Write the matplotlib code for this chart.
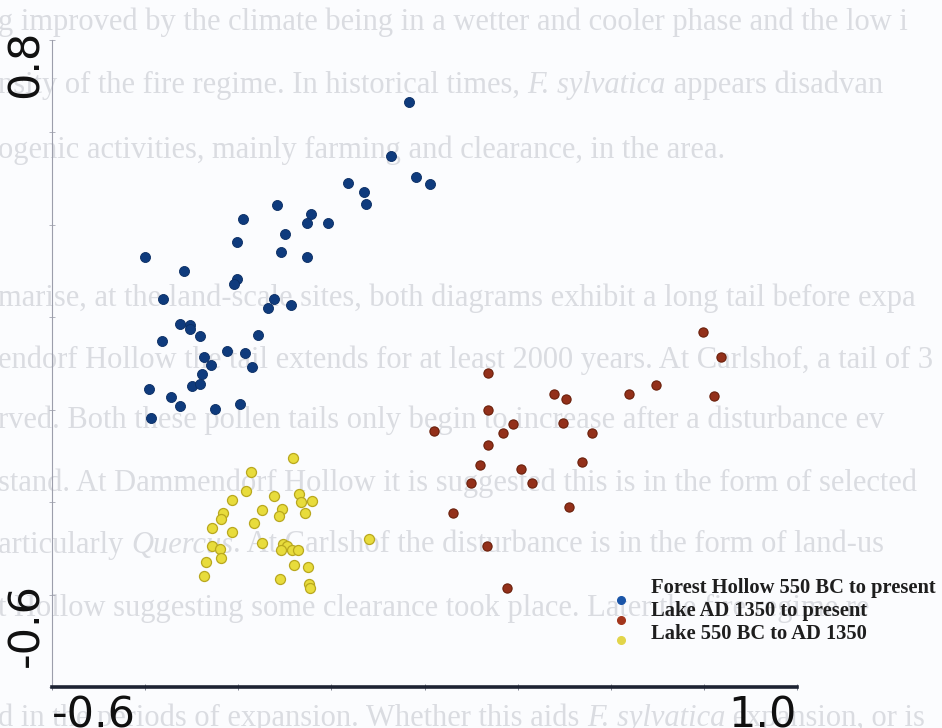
import matplotlib
matplotlib.use("Agg")
import matplotlib.pyplot as plt
import numpy as np

# ---- ordination scores (axis 1, axis 2) ----
forest_x = [0.167, 0.128, 0.182, 0.212, 0.036, 0.070, 0.074, -0.117, -0.044, -0.052,
            -0.007, -0.190, -0.100, -0.203, -0.108, -0.052, -0.400, -0.317, -0.203, -0.209,
            -0.362, -0.123, -0.136, -0.087, -0.325, -0.304, -0.304, -0.282, -0.364, -0.158,
            -0.224, -0.185, -0.274, -0.259, -0.170, -0.278, -0.299, -0.282, -0.392, -0.344,
            -0.325, -0.250, -0.196, -0.387]
forest_y = [0.666, 0.549, 0.503, 0.488, 0.490, 0.471, 0.445, 0.443, 0.423, 0.404,
            0.404, 0.413, 0.380, 0.363, 0.341, 0.330, 0.330, 0.300, 0.283, 0.272,
            0.239, 0.239, 0.220, 0.226, 0.185, 0.183, 0.174, 0.159, 0.149, 0.161,
            0.127, 0.122, 0.114, 0.097, 0.092, 0.077, 0.051, 0.055, 0.045, 0.027,
            0.008, 0.001, 0.012, -0.018]

lake_late_x = [0.798, 0.837, 0.336, 0.697, 0.639, 0.822, 0.478, 0.504, 0.336, 0.220,
               0.390, 0.369, 0.336, 0.498, 0.560, 0.319, 0.538, 0.407, 0.300, 0.431,
               0.261, 0.510, 0.334, 0.377]
lake_late_y = [0.168, 0.114, 0.079, 0.053, 0.034, 0.029, 0.034, 0.023, -0.001, -0.046,
               -0.031, -0.051, -0.077, -0.029, -0.051, -0.120, -0.113, -0.129, -0.159, -0.159,
               -0.224, -0.211, -0.295, -0.386]

lake_early_x = [-0.082, -0.173, -0.183, -0.123, -0.069, -0.065, -0.042, -0.213, -0.149, -0.106,
                -0.112, -0.057, -0.233, -0.237, -0.166, -0.256, -0.213, 0.081, -0.149, -0.256,
                -0.239, -0.104, -0.095, -0.108, -0.085, -0.072, -0.269, -0.237, -0.080, -0.050,
                -0.274, -0.110, -0.048, -0.046]
lake_early_y = [-0.105, -0.135, -0.176, -0.187, -0.183, -0.200, -0.198, -0.196, -0.217, -0.215,
                -0.230, -0.224, -0.224, -0.237, -0.245, -0.256, -0.265, -0.280, -0.289, -0.295,
                -0.302, -0.291, -0.295, -0.304, -0.304, -0.304, -0.330, -0.321, -0.336, -0.341,
                -0.360, -0.367, -0.377, -0.386]

series_names = ["Forest Hollow 550 BC to present",
                "Lake AD 1350 to present",
                "Lake 550 BC to AD 1350"]

x_limits = [-0.6, 1.0]
y_limits = [-0.6, 0.8]
tick_step = 0.2

# ---- figure ----
W, H = 942, 728
PAGE = "#fbfcfe"
fig = plt.figure(figsize=(W / 100, H / 100), dpi=100, facecolor=PAGE)
ax = fig.add_axes([52 / W, 41 / H, 745 / W, 647 / H])
ax.set_facecolor("none")
ax.set_xlim(*x_limits)
ax.set_ylim(*y_limits)

for side in ("top", "right"):
    ax.spines[side].set_visible(False)
ax.spines["left"].set_color("#9c9eab")
ax.spines["left"].set_linewidth(0.8)
ax.spines["bottom"].set_color("#1d2333")
ax.spines["bottom"].set_linewidth(2.6)

ax.set_xticks(np.arange(x_limits[0], x_limits[1] + 1e-9, tick_step))
ax.set_yticks(np.arange(y_limits[0], y_limits[1] + 1e-9, tick_step))
ax.tick_params(axis="y", direction="inout", length=4, width=0.6, color="#a4a6b2",
               labelleft=False)
ax.tick_params(axis="x", direction="inout", length=5, width=0.6, color="#6c7080",
               labelbottom=False)

# ---- background page text (show-through from the printed page) ----
serif = "Liberation Serif"
bg_col = "#dadce1"
bg_size = 22
page_lines = [
    (22, [("g improved by the climate being in a wetter and cooler phase and the low i", "normal")]),
    (85, [("nsity of the fire regime. In historical times, ", "normal"),
          ("F. sylvatica", "italic"), (" appears disadvan", "normal")]),
    (150, [("ogenic activities, mainly farming and clearance, in the area.", "normal")]),
    (298, [("marise, at the land-scale sites, both diagrams exhibit a long tail before expa", "normal")]),
    (360, [("endorf Hollow the tail extends for at least 2000 years. At Carlshof, a tail of 3", "normal")]),
    (420, [("rved. Both these pollen tails only begin to increase after a disturbance ev", "normal")]),
    (483, [("stand. At Dammendorf Hollow it is suggested this is in the form of selected", "normal")]),
    (545, [("articularly ", "normal"), ("Quercus", "italic"),
           (". At Carlshof the disturbance is in the form of land-us", "normal")]),
    (608, [("t Hollow suggesting some clearance took place. Later the fire regime re", "normal")]),
    (718, [("d in the periods of expansion. Whether this aids ", "normal"),
           ("F. sylvatica", "italic"), (" expansion, or is", "normal")]),
]
for y_px, segments in page_lines:
    prev = None
    for seg, style in segments:
        if prev is None:
            prev = ax.annotate(seg, xy=(-2, H - y_px), xycoords="figure pixels",
                               ha="left", va="center", fontsize=bg_size, family=serif,
                               style=style, color=bg_col, zorder=0.5)
        else:
            prev = ax.annotate(seg, xy=(1, 0), xycoords=prev, ha="left", va="bottom",
                               fontsize=bg_size, family=serif, style=style,
                               color=bg_col, zorder=0.5)

# ---- scatter ----
ax.scatter(forest_x, forest_y, s=52, c="#0f3b7d", edgecolors="#0a2d63",
           linewidths=0.6, zorder=3, clip_on=False)
ax.scatter(lake_late_x, lake_late_y, s=44, c="#93301a", edgecolors="#6a1f0a",
           linewidths=0.8, zorder=3, clip_on=False)
ax.scatter(lake_early_x, lake_early_y, s=52, c="#e8dc3c", edgecolors="#b9a81e",
           linewidths=0.9, zorder=3, clip_on=False)

# ---- legend ----
legend_cols = ["#1a55a8", "#a3361c", "#e2d54a"]
marker_y = [600, 620, 640]
text_y = [588, 611, 634]
for name, col, my, ty in zip(series_names, legend_cols, marker_y, text_y):
    fig.add_artist(plt.Line2D([621 / W], [1 - my / H], marker="o", markersize=5.5,
                              color=col, markeredgecolor=col, linestyle="none"))
    fig.text(651 / W, 1 - ty / H, name, ha="left", va="center", fontsize=14.8,
             family=serif, weight="bold", color="#1e1e1e")

# ---- axis end labels ----
lab_kw = dict(fontsize=31, family="DejaVu Sans", color="#101010")
fig.text(52 / W, 1 - 727 / H, f"{x_limits[0]:.1f}", ha="left", va="baseline", **lab_kw)
fig.text(797 / W, 1 - 727 / H, f"{x_limits[1]:.1f}", ha="right", va="baseline", **lab_kw)
fig.text(38 / W, 1 - 30 / H, f"{y_limits[1]:.1f}", rotation=90, rotation_mode="anchor",
         ha="right", va="baseline", **lab_kw)
fig.text(38 / W, 1 - 667 / H, f"{y_limits[0]:.1f}", rotation=90, rotation_mode="anchor",
         ha="left", va="baseline", **lab_kw)

fig.savefig("out.png", dpi=100, facecolor=PAGE)
